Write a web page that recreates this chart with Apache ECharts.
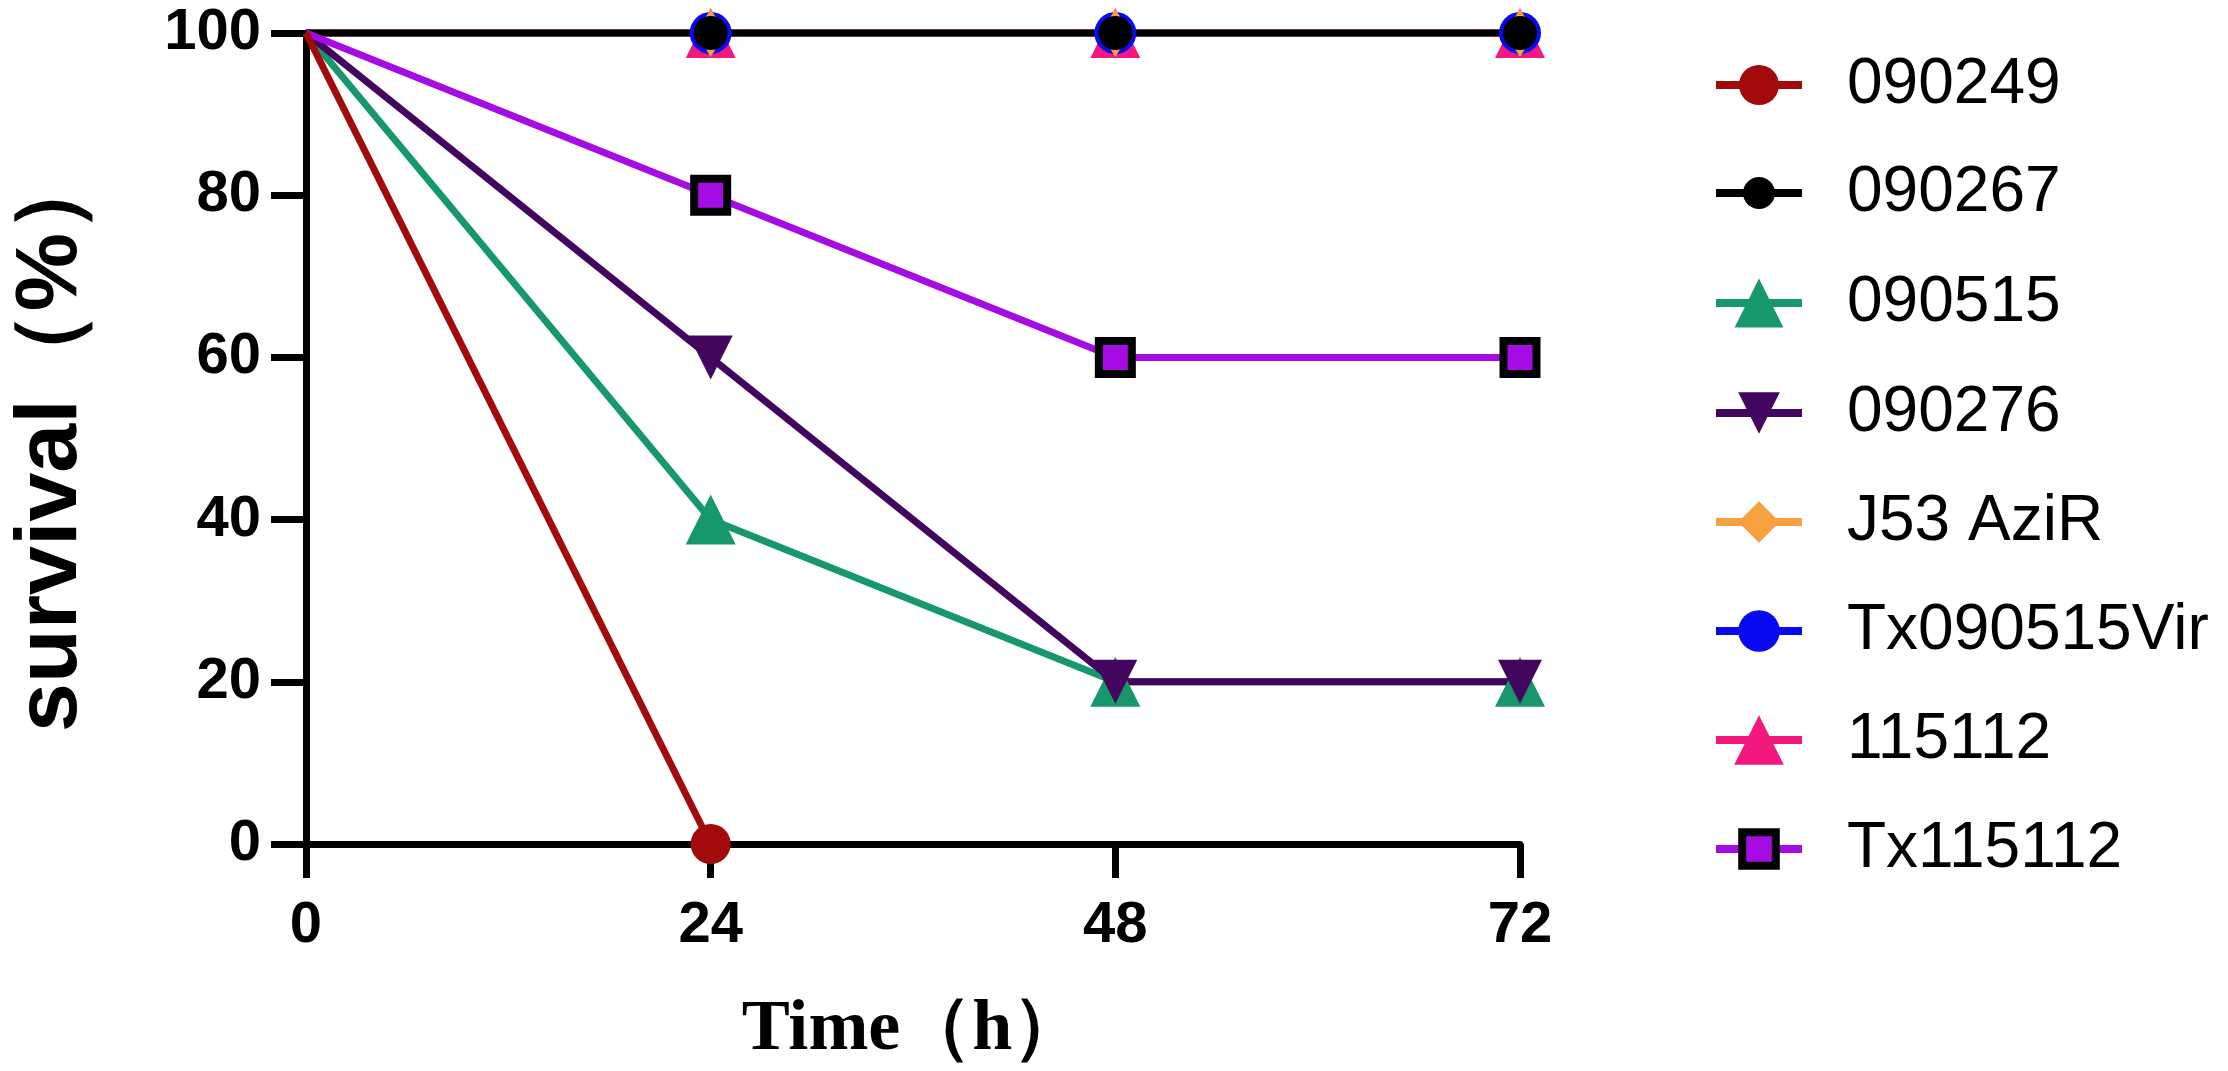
<!DOCTYPE html>
<html>
<head>
<meta charset="utf-8">
<script src="https://cdn.jsdelivr.net/npm/echarts@6/dist/echarts.min.js"></script>
<style>
  html, body { margin: 0; padding: 0; background: #fff; }
  #chart { width: 2228px; height: 1071px; }
</style>
</head>
<body>
<div id="chart"></div>
<script>
// time points (h)
const hours = [0, 24, 48, 72];

// survival (%) per strain
const s090249 = [100, 0];
const s090267 = [100, 100, 100, 100];
const s090515 = [100, 40, 20, 20];
const s090276 = [100, 60, 20, 20];
const sJ53 = [100, 100, 100, 100];
const sTx090515Vir = [100, 100, 100, 100];
const s115112 = [100, 100, 100, 100];
const sTx115112 = [100, 80, 60, 60];

const legendNames = ["090249", "090267", "090515", "090276", "J53 AziR", "Tx090515Vir", "115112", "Tx115112"];

function toPoints(vals) {
  // no marker on the starting point
  return vals.map((v, i) => i === 0 ? { value: [hours[i], v], symbol: "none" } : [hours[i], v]);
}

function lineSeries(name, vals, color, symbol, size, extra) {
  return Object.assign({
    name: name,
    type: "line",
    data: toPoints(vals),
    symbol: symbol,
    symbolSize: size,
    showAllSymbol: true,
    clip: false,
    lineStyle: { color: color, width: 7 },
    itemStyle: { color: color },
    emphasis: { disabled: true },
    animation: false
  }, extra || {});
}

function legendRow(name, itemHeight, centerY, border) {
  const row = {
    data: [name],
    orient: "vertical",
    left: 1712,
    top: centerY - 32,
    padding: 0,
    itemWidth: 86,
    itemHeight: itemHeight,
    selectedMode: false,
    lineStyle: { width: 8 },
    textStyle: {
      fontFamily: "Liberation Sans, Arial, sans-serif",
      fontSize: 64,
      lineHeight: 64,
      color: "#000",
      padding: [0, 0, 0, 40]
    }
  };
  if (border) row.itemStyle = { borderColor: "#000", borderWidth: 8 };
  return row;
}

const chart = echarts.init(document.getElementById("chart"));

// draw order: bottom first
const series = [
  lineSeries("115112", s115112, "#F2187D", "triangle", 50),
  lineSeries("Tx090515Vir", sTx090515Vir, "#0A0AF0", "circle", 42),
  lineSeries("J53 AziR", sJ53, "#F7A040", "diamond", [30, 48]),
  lineSeries("090267", s090267, "#000000", "circle", 34),
  lineSeries("090515", s090515, "#16986C", "triangle", 50),
  lineSeries("090276", s090276, "#42065E", "triangle", 44, { symbolRotate: 180 }),
  lineSeries("Tx115112", sTx115112, "#A40CE3", "rect", 33, {
    itemStyle: { color: "#A40CE3", borderColor: "#000", borderWidth: 8 }
  }),
  lineSeries("090249", s090249, "#A30B0B", "circle", 40)
];

const legendHeights = [50, 40, 61, 52, 52, 52, 62, 42];
const legendCenters = [85, 193, 303, 413, 522, 631, 740, 849];

const tickFont = {
  fontFamily: "Liberation Sans, Arial, sans-serif",
  fontWeight: "bold",
  fontSize: 58,
  color: "#000"
};

chart.setOption({
  backgroundColor: "#fff",
  animation: false,
  grid: { left: 302, top: 33, width: 1218, height: 812 },
  legend: legendNames.map((n, i) => legendRow(n, legendHeights[i], legendCenters[i], n === "Tx115112")),
  xAxis: {
    type: "value",
    min: 0,
    max: 72,
    interval: 24,
    name: "Time（h）",
    nameLocation: "middle",
    nameGap: 150,
    nameTextStyle: {
      fontFamily: "Liberation Serif, Times New Roman, serif",
      fontWeight: "bold",
      fontSize: 72,
      color: "#000"
    },
    axisLine: { lineStyle: { color: "#000", width: 7 } },
    axisTick: { length: 34, lineStyle: { color: "#000", width: 7 } },
    axisLabel: Object.assign({ margin: 53 }, tickFont),
    splitLine: { show: false }
  },
  yAxis: {
    type: "value",
    min: 0,
    max: 100,
    interval: 20,
    name: "survival（%）",
    nameLocation: "middle",
    nameGap: 210,
    nameRotate: 90,
    nameTextStyle: {
      fontFamily: "Liberation Sans, Arial, sans-serif",
      fontWeight: "bold",
      fontSize: 88,
      color: "#000"
    },
    axisLine: { show: true, lineStyle: { color: "#000", width: 7 } },
    axisTick: { show: true, length: 35, lineStyle: { color: "#000", width: 7 } },
    axisLabel: Object.assign({ margin: 45 }, tickFont),
    splitLine: { show: false }
  },
  series: series
});
</script>
</body>
</html>
